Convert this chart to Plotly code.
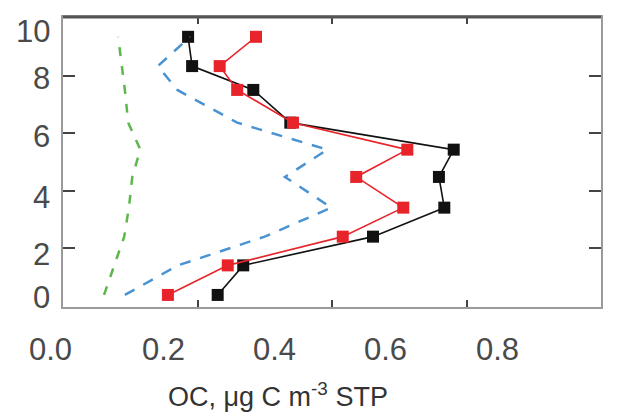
import plotly.graph_objects as go

# ---- data ----
altitude_km = [0.37, 1.40, 2.40, 3.41, 4.48, 5.43, 6.37, 7.51, 8.34, 9.36]
oc_black = [0.230, 0.268, 0.461, 0.567, 0.559, 0.581, 0.338, 0.283, 0.192, 0.186]
oc_red = [0.156, 0.245, 0.416, 0.506, 0.436, 0.512, 0.342, 0.259, 0.233, 0.287]
oc_blue = [0.092, 0.171, 0.300, 0.399, 0.330, 0.393, 0.259, 0.170, 0.141, 0.189]
oc_green = [0.061, 0.076, 0.091, 0.098, 0.103, 0.115, 0.097, 0.092, 0.088, 0.082]

x_tick_labels = ["0.0", "0.2", "0.4", "0.6", "0.8"]
y_tick_labels = ["10", "8", "6", "4", "2", "0"]
x_title = "OC, μg C m<sup>-3</sup> STP"

# ---- layout geometry (page pixels; page body has an 8px margin) ----
PAGE_OFF = 8
W, H = 629 - PAGE_OFF, 417 - PAGE_OFF
L, R, T, B = 63, 601, 15, 307  # plot area in page pixels
PW, PH = R - L, B - T

def px_x(px):
    return (px - L) / PW

def px_y(py):
    return (B - py) / PH

x_label_px = [50, 163, 274, 385, 497]
x_label_py = 350
y_label_px_right = 52
y_label_py = [30, 77, 135, 197, 254, 297]

FONT = "Liberation Sans, Arial, sans-serif"

fig = go.Figure()

fig.add_trace(go.Scatter(
    x=oc_black, y=altitude_km, mode="lines+markers",
    line=dict(color="#111111", width=1.6),
    marker=dict(symbol="square", size=12, color="#111111"),
    showlegend=False))
fig.add_trace(go.Scatter(
    x=oc_red, y=altitude_km, mode="lines+markers",
    line=dict(color="#e8232a", width=1.6),
    marker=dict(symbol="square", size=12, color="#e8232a"),
    showlegend=False))
fig.add_trace(go.Scatter(
    x=oc_green, y=altitude_km, mode="lines",
    line=dict(color="#5cb84a", width=2.5, dash="9px,10px"),
    showlegend=False))
fig.add_trace(go.Scatter(
    x=oc_blue, y=altitude_km, mode="lines",
    line=dict(color="#4a93d2", width=2.5, dash="11px,10px"),
    showlegend=False))

annotations = []
for txt, px in zip(x_tick_labels, x_label_px):
    annotations.append(dict(
        text=txt, x=px_x(px), y=px_y(x_label_py), xref="paper", yref="paper",
        xanchor="center", yanchor="middle", showarrow=False,
        font=dict(family=FONT, size=31, color="#4a4a4a")))
for txt, py in zip(y_tick_labels, y_label_py):
    annotations.append(dict(
        text=txt, x=px_x(y_label_px_right), y=px_y(py), xref="paper", yref="paper",
        xanchor="right", yanchor="middle", showarrow=False,
        font=dict(family=FONT, size=31, color="#4a4a4a")))
annotations.append(dict(
    text=x_title, x=px_x(278), y=px_y(396), xref="paper", yref="paper",
    xanchor="center", yanchor="middle", showarrow=False,
    font=dict(family=FONT, size=27, color="#333333")))

fig.update_layout(
    width=W, height=H,
    margin=dict(l=L - PAGE_OFF, r=(W + PAGE_OFF) - R, t=T - PAGE_OFF,
                b=(H + PAGE_OFF) - B, pad=0),
    paper_bgcolor="white", plot_bgcolor="white",
    annotations=annotations,
    shapes=[dict(type="line", xref="paper", yref="paper",
                 x0=0, x1=1, y0=1, y1=1,
                 line=dict(color="#555555", width=3))],
)
fig.update_xaxes(
    range=[0, 0.8], showgrid=False, zeroline=False,
    showline=True, linecolor="#9a9a9a", linewidth=2, mirror="ticks",
    tickvals=[0.2, 0.4, 0.6], ticks="inside", ticklen=7, tickwidth=2,
    tickcolor="#444444", showticklabels=False)
fig.update_yaxes(
    range=[-0.05, 10.05], showgrid=False, zeroline=False,
    showline=True, linecolor="#9a9a9a", linewidth=2, mirror="ticks",
    tickvals=[2, 4, 6, 8], ticks="inside", ticklen=12, tickwidth=2,
    tickcolor="#444444", showticklabels=False)

fig.write_html("out.html")
